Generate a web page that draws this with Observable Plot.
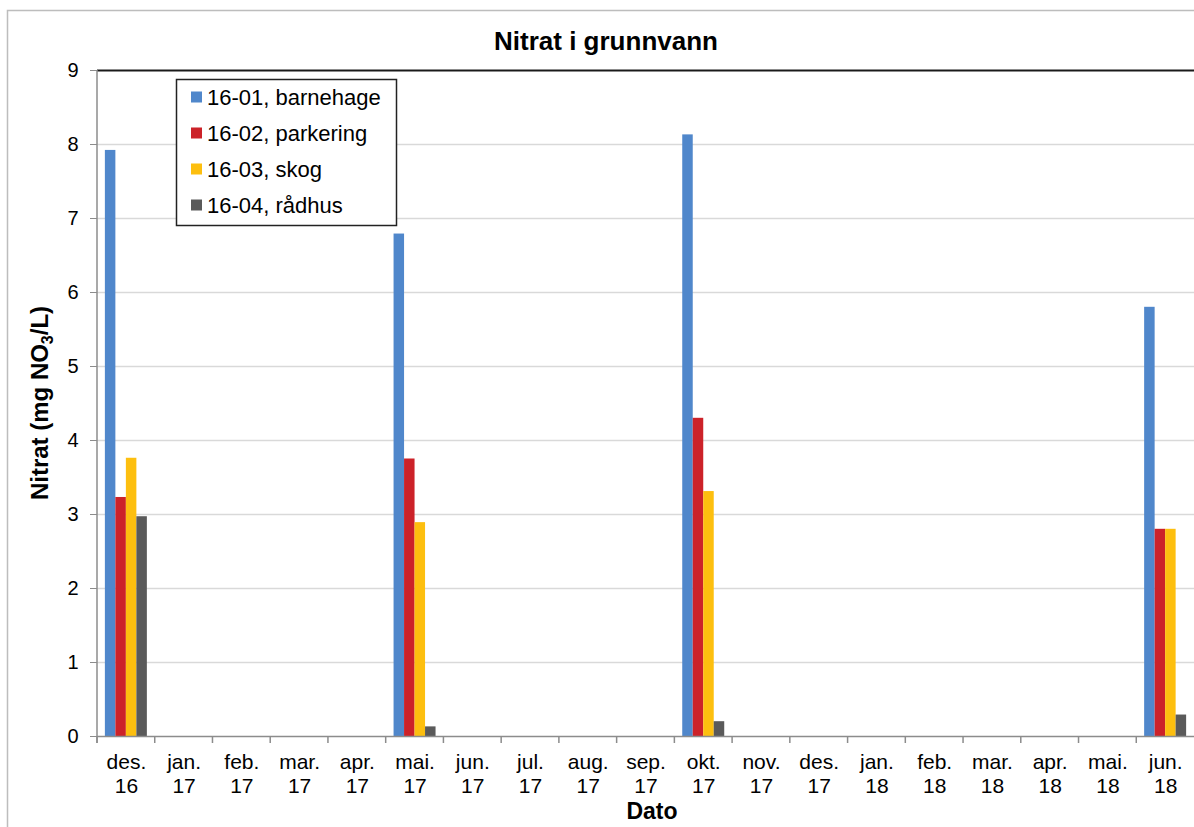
<!DOCTYPE html>
<html><head><meta charset="utf-8">
<script src="https://cdn.jsdelivr.net/npm/d3@7"></script>
<script src="https://cdn.jsdelivr.net/npm/@observablehq/plot@0.6"></script>
<style>
body{margin:0;background:#fff}
#chart{position:relative;width:1194px;height:827px;overflow:hidden}
</style>
</head><body><div id="chart"></div>
<script>
// Categories (all months on the x axis)
const months = ["des. 16","jan. 17","feb. 17","mar. 17","apr. 17","mai. 17","jun. 17","jul. 17","aug. 17","sep. 17","okt. 17","nov. 17","des. 17","jan. 18","feb. 18","mar. 18","apr. 18","mai. 18","jun. 18"];
const tickLabels = ["des.\n16","jan.\n17","feb.\n17","mar.\n17","apr.\n17","mai.\n17","jun.\n17","jul.\n17","aug.\n17","sep.\n17","okt.\n17","nov.\n17","des.\n17","jan.\n18","feb.\n18","mar.\n18","apr.\n18","mai.\n18","jun.\n18"];
// Sampling months
const sampleMonths = ["des. 16","mai. 17","okt. 17","jun. 18"];
// Series
const series = ["16-01, barnehage","16-02, parkering","16-03, skog","16-04, rådhus"];
const colors = ["#5087cb","#cc2229","#fdbf0f","#5a5a5a"];
const barnehage = [7.92, 6.79, 8.13, 5.80];
const parkering = [3.23, 3.75, 4.30, 2.80];
const skog      = [3.76, 2.89, 3.31, 2.80];
const radhus    = [2.97, 0.13, 0.20, 0.29];
const yTicks = [0,1,2,3,4,5,6,7,8,9];

const seriesValues = [barnehage, parkering, skog, radhus];
const data = sampleMonths.flatMap((m, i) => series.map((s, j) => ({month: m, series: s, value: seriesValues[j][i]})));

const W = 1194, H = 827;
const mL = 97, mR = 0, mT = 70, mB = 91;
// bar sizing within each month band (style only)
const step = (W - mL - mR) / months.length;
const barW = step / 5.5;
const groupPad = 0.75 * barW;

const barMarks = series.map((s, i) => Plot.barY(data.filter(d => d.series === s), {
  x: "month", y: "value", fill: "series",
  insetLeft: groupPad + i * barW,
  insetRight: step - groupPad - (i + 1) * barW
}));

const plot = Plot.plot({
  width: W, height: H,
  marginLeft: mL, marginRight: mR, marginTop: mT, marginBottom: mB,
  style: {fontFamily: "'Liberation Sans', Arial, sans-serif", fontSize: "20px", color: "#000", background: "transparent", overflow: "visible"},
  x: {domain: months, padding: 0, round: false, label: null},
  y: {domain: [0, 9], label: null},
  color: {domain: series, range: colors},
  marks: [
    Plot.gridY(yTicks.filter(d => d > 0 && d < 9), {stroke: "#d9d9d9", strokeOpacity: 1, strokeWidth: 1.5}),
    Plot.ruleY([9], {stroke: "#1a1a1a", strokeWidth: 2}),
    ...barMarks,
    Plot.ruleY([0], {stroke: "#8c8c8c", strokeWidth: 1.5}),
    Plot.axisY(yTicks, {anchor: "left", tickSize: 7, tickPadding: 12, stroke: "#8c8c8c", fill: "#000", label: null, tickFormat: d3.format("d"), fontSize: 20}),
    Plot.axisX({anchor: "bottom", tickSize: 0, tickPadding: 15, tickFormat: m => tickLabels[months.indexOf(m)], lineHeight: 1.15, fontSize: 21, label: null})
  ]
});
document.getElementById("chart").appendChild(plot);

const svg = d3.select(plot);
const y = plot.scale("y");
const x = plot.scale("x");
const y0 = y.apply(0), y9 = y.apply(9);

// outer chart border
svg.insert("rect", ":first-child").attr("x", 7.5).attr("y", 10.5).attr("width", 1200).attr("height", 900)
  .attr("fill", "none").attr("stroke", "#bdbdbd").attr("stroke-width", 1.5);

// y axis line
svg.append("line").attr("x1", mL).attr("x2", mL).attr("y1", y9).attr("y2", y0 + 7)
  .attr("stroke", "#8c8c8c").attr("stroke-width", 1.5);
// x boundary ticks (band starts)
months.forEach(m => {
  const xb = x.apply(m);
  svg.append("line").attr("x1", xb).attr("x2", xb).attr("y1", y0).attr("y2", y0 + 7)
    .attr("stroke", "#8c8c8c").attr("stroke-width", 1.5);
});

// title
svg.append("text").attr("x", 606).attr("y", 50).attr("text-anchor", "middle")
  .attr("font-weight", "bold").attr("font-size", 26).text("Nitrat i grunnvann");

// x label
svg.append("text").attr("x", 652).attr("y", 819).attr("text-anchor", "middle")
  .attr("font-weight", "bold").attr("font-size", 23).text("Dato");

// y label with subscript
const yl = svg.append("text").attr("transform", `translate(48,${(y0 + y9) / 2}) rotate(-90)`)
  .attr("text-anchor", "middle").attr("font-weight", "bold").attr("font-size", 24);
yl.append("tspan").text("Nitrat (mg NO");
yl.append("tspan").attr("font-size", 16).attr("dy", 5).text("3");
yl.append("tspan").attr("dy", -5).text("/L)");

// legend
const lg = svg.append("g").attr("text-anchor", "start");
lg.append("rect").attr("x", 176.5).attr("y", 79.5).attr("width", 220).attr("height", 146)
  .attr("fill", "#fff").attr("stroke", "#222").attr("stroke-width", 1.5);
series.forEach((s, i) => {
  const cy = 97 + i * 36;
  lg.append("rect").attr("x", 191).attr("y", cy - 5.5).attr("width", 11).attr("height", 11).attr("fill", colors[i]);
  lg.append("text").attr("x", 207).attr("y", cy).attr("dy", "0.35em").attr("font-size", 22).text(s);
});
</script>
</body></html>
